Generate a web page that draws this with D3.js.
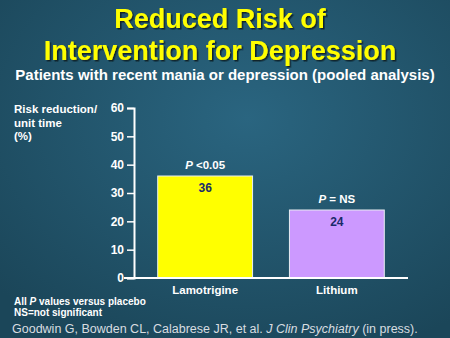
<!DOCTYPE html>
<html>
<head>
<meta charset="utf-8">
<script src="https://cdn.jsdelivr.net/npm/d3@7"></script>
<style>
  body { margin: 0; background: #1f5168; }
  svg { display: block; font-family: "Liberation Sans", Arial, sans-serif; }
</style>
</head>
<body>
<div id="chart"></div>
<script>
// chart data
const categories = ['Lamotrigine', 'Lithium'];
const values = [36, 24];
const pLabels = ['<0.05', '= NS'];
const barColors = ['#ffff00', '#cc99ff'];
const yTicks = [0, 10, 20, 30, 40, 50, 60];

const width = 450, height = 338;
const margin = { top: 108, right: 42, bottom: 60, left: 134 };

const svg = d3.select('#chart').append('svg')
    .attr('width', width)
    .attr('height', height);

// background
const defs = svg.append('defs');
const grad = defs.append('radialGradient')
    .attr('id', 'bg').attr('cx', '55%').attr('cy', '35%').attr('r', '75%');
grad.append('stop').attr('offset', '0%').attr('stop-color', '#2a6580');
grad.append('stop').attr('offset', '100%').attr('stop-color', '#1b4659');
const shadow = defs.append('filter').attr('id', 'shadow');
shadow.append('feDropShadow').attr('dx', 1.5).attr('dy', 1.5)
    .attr('stdDeviation', 0.3).attr('flood-color', '#0a1a22').attr('flood-opacity', 0.9);

svg.append('rect').attr('width', width).attr('height', height).attr('fill', 'url(#bg)');

// titles
const title = svg.append('text')
    .attr('text-anchor', 'middle')
    .attr('fill', '#ffff00')
    .attr('font-weight', 'bold')
    .attr('font-size', 27)
    .attr('filter', 'url(#shadow)');
title.append('tspan').attr('x', 220).attr('y', 28).text('Reduced Risk of');
title.append('tspan').attr('x', 220).attr('y', 60).text('Intervention for Depression');

svg.append('text')
    .attr('x', 225).attr('y', 80)
    .attr('text-anchor', 'middle')
    .attr('fill', '#ffffff')
    .attr('font-weight', 'bold')
    .attr('font-size', 15)
    .text('Patients with recent mania or depression (pooled analysis)');

// scales
const x = d3.scaleBand()
    .domain(categories)
    .range([margin.left, width - margin.right])
    .paddingInner(0.28)
    .paddingOuter(0.18);

const y = d3.scaleLinear()
    .domain([0, 60])
    .range([height - margin.bottom, margin.top]);

// bars
svg.append('g')
    .selectAll('rect')
    .data(values)
    .join('rect')
    .attr('x', (d, i) => x(categories[i]))
    .attr('y', d => y(d))
    .attr('width', x.bandwidth())
    .attr('height', d => y(0) - y(d))
    .attr('fill', (d, i) => barColors[i])
    .attr('stroke', '#e8eef2')
    .attr('stroke-width', 1);

// value labels
svg.append('g')
    .selectAll('text')
    .data(values)
    .join('text')
    .attr('x', (d, i) => x(categories[i]) + x.bandwidth() / 2)
    .attr('y', d => y(d) + 16)
    .attr('text-anchor', 'middle')
    .attr('fill', '#1a2a6a')
    .attr('font-weight', 'bold')
    .attr('font-size', 12)
    .text(d => d);

// P labels
const pText = svg.append('g')
    .selectAll('text')
    .data(values)
    .join('text')
    .attr('x', (d, i) => x(categories[i]) + x.bandwidth() / 2)
    .attr('y', d => y(d) - 7)
    .attr('text-anchor', 'middle')
    .attr('fill', '#ffffff')
    .attr('font-weight', 'bold')
    .attr('font-size', 11.5);
pText.append('tspan').attr('font-style', 'italic').text('P');
pText.append('tspan').text((d, i) => ' ' + pLabels[i]);

// y axis
const yAxis = svg.append('g')
    .attr('transform', `translate(${margin.left},0)`)
    .call(d3.axisLeft(y).tickValues(yTicks).tickSize(7).tickPadding(3));
yAxis.select('.domain').attr('stroke', '#ffffff').attr('stroke-width', 2);
yAxis.selectAll('.tick line').attr('stroke', '#ffffff').attr('stroke-width', 1.5);
yAxis.selectAll('.tick text')
    .attr('fill', '#ffffff')
    .attr('font-size', 12)
    .attr('font-weight', 'bold')
    .attr('font-family', '"Liberation Sans", Arial, sans-serif');

// x axis
const xAxis = svg.append('g')
    .attr('transform', `translate(0,${y(0)})`)
    .call(d3.axisBottom(x).tickSize(0).tickPadding(8));
xAxis.select('.domain').attr('stroke', '#ffffff').attr('stroke-width', 2)
    .attr('d', `M${margin.left - 10},0H${width - margin.right}`);
xAxis.selectAll('.tick text')
    .attr('fill', '#ffffff')
    .attr('font-size', 11.5)
    .attr('font-weight', 'bold')
    .attr('font-family', '"Liberation Sans", Arial, sans-serif');

// y axis title
const yTitle = svg.append('text')
    .attr('fill', '#ffffff')
    .attr('font-weight', 'bold')
    .attr('font-size', 11.5);
['Risk reduction/', 'unit time', '(%)'].forEach((t, i) => {
  yTitle.append('tspan').attr('x', 14).attr('y', 113 + i * 13.5).text(t);
});

// footnotes
const note1 = svg.append('text')
    .attr('x', 14).attr('y', 305)
    .attr('fill', '#ffffff').attr('font-weight', 'bold').attr('font-size', 10);
note1.append('tspan').text('All ');
note1.append('tspan').attr('font-style', 'italic').text('P');
note1.append('tspan').text(' values versus placebo');

svg.append('text')
    .attr('x', 14).attr('y', 316)
    .attr('fill', '#ffffff').attr('font-weight', 'bold').attr('font-size', 10)
    .text('NS=not significant');

const cite = svg.append('text')
    .attr('x', 12).attr('y', 333)
    .attr('fill', '#d8dde0').attr('font-size', 12.5);
cite.append('tspan').text('Goodwin G, Bowden CL, Calabrese JR, et al. ');
cite.append('tspan').attr('font-style', 'italic').text('J Clin Psychiatry');
cite.append('tspan').text(' (in press).');
</script>
</body>
</html>
